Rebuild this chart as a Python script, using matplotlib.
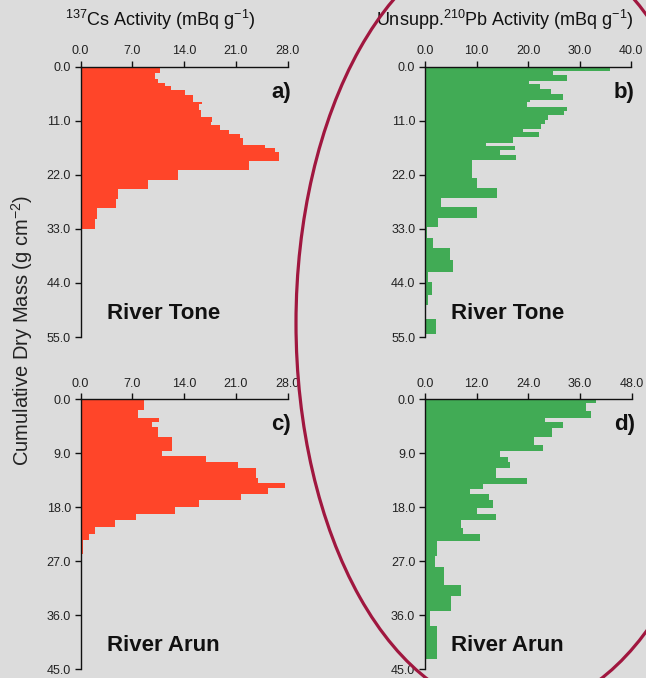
import matplotlib
matplotlib.use('Agg')
import matplotlib.pyplot as plt
import numpy as np
from matplotlib.patches import Ellipse

plt.rcParams['font.family'] = ['Liberation Sans', 'DejaVu Sans']
plt.rcParams['mathtext.fontset'] = 'custom'
plt.rcParams['mathtext.rm'] = 'Liberation Sans'
plt.rcParams['mathtext.it'] = 'Liberation Sans:italic'
plt.rcParams['mathtext.bf'] = 'Liberation Sans:bold'

# depth slice edges (cumulative dry mass, g cm-2) and activities (mBq g-1)
tone_cs_edges = [0, 1.34, 2.48, 3.36, 4.03, 4.83, 5.84, 7.18, 7.65, 8.86, 10.2,
                 11.2, 11.88, 12.89, 13.69, 14.56, 15.9, 16.58, 17.45, 19.26,
                 21.14, 23.09, 24.97, 26.98, 28.79, 31.0, 33.0]
tone_cs = [10.7, 10.05, 10.4, 11.4, 12.2, 14.1, 15.2, 16.4, 16.05, 16.3, 17.8,
           17.6, 18.85, 20.0, 21.6, 21.9, 24.9, 26.3, 26.8, 22.8, 13.2, 9.1,
           5.0, 4.8, 2.2, 1.95]

tone_pb_edges = [0, 1.0, 1.82, 3.04, 3.58, 4.52, 5.53, 6.75, 7.29, 8.23, 9.11,
                 9.92, 10.8, 11.67, 12.62, 13.29, 14.3, 15.52, 16.19, 17.0,
                 18.02, 19.03, 22.74, 24.63, 26.65, 28.54, 30.7, 32.73, 34.9,
                 36.8, 39.27, 41.7, 43.86, 46.4, 48.5, 51.35, 54.3]
tone_pb = [36.0, 24.8, 27.6, 20.2, 22.4, 24.5, 26.7, 20.4, 19.9, 27.5, 27.0,
           23.9, 23.3, 22.6, 19.1, 22.2, 17.1, 11.8, 17.5, 14.6, 17.7, 9.05,
           10.0, 14.0, 3.2, 10.1, 2.6, 0.45, 1.5, 4.85, 5.5, 0.6, 1.35, 0.65,
           0.0, 2.2]

arun_cs_edges = [0, 1.76, 3.03, 3.8, 4.68, 6.33, 8.64, 9.47, 10.46, 11.5, 13.04,
                 13.87, 14.8, 15.8, 16.8, 18.0, 19.1, 20.1, 21.3, 22.4, 23.4,
                 25.7]
arun_cs = [8.5, 7.8, 10.6, 9.6, 10.5, 12.3, 11.05, 16.95, 21.3, 23.7, 24.0,
           27.6, 25.3, 21.7, 16.0, 12.8, 7.5, 4.6, 2.0, 1.1, 0.35]

arun_pb_edges = [0, 0.66, 1.9, 3.04, 3.81, 4.8, 6.35, 7.57, 8.67, 9.6, 10.44,
                 11.44, 13.1, 14.1, 14.9, 15.86, 16.85, 18.18, 19.06, 20.17,
                 21.4, 22.5, 23.6, 26.1, 28.0, 30.9, 32.7, 35.3, 37.85, 43.2]
arun_pb = [39.6, 37.3, 38.5, 27.9, 32.0, 29.4, 25.2, 27.5, 17.3, 19.35, 19.7,
           16.5, 23.6, 13.5, 10.45, 14.9, 15.9, 12.15, 16.6, 8.3, 8.9, 12.8,
           2.86, 2.3, 4.4, 8.3, 5.96, 1.16, 2.7]

cs_ticks = [0, 7, 14, 21, 28]
tone_pb_ticks = [0, 10, 20, 30, 40]
arun_pb_ticks = [0, 12, 24, 36, 48]
tone_depth_ticks = [0, 11, 22, 33, 44, 55]
arun_depth_ticks = [0, 9, 18, 27, 36, 45]

bg = '#DCDCDC'
red = '#FF4529'
green = '#41AB55'

fig = plt.figure(figsize=(6.46, 6.78), dpi=100, facecolor=bg)

panels = [
    ([0.1249, 0.5029, 0.3204, 0.3990], tone_cs_edges, tone_cs, red,
     cs_ticks, tone_depth_ticks, 'a)', 'River Tone'),
    ([0.6579, 0.5029, 0.3189, 0.3990], tone_pb_edges, tone_pb, green,
     tone_pb_ticks, tone_depth_ticks, 'b)', 'River Tone'),
    ([0.1249, 0.0128, 0.3204, 0.3982], arun_cs_edges, arun_cs, red,
     cs_ticks, arun_depth_ticks, 'c)', 'River Arun'),
    ([0.6579, 0.0128, 0.3200, 0.3982], arun_pb_edges, arun_pb, green,
     arun_pb_ticks, arun_depth_ticks, 'd)', 'River Arun'),
]

for rect, edges, vals, col, xt, yt, tag, river in panels:
    ax = fig.add_axes(rect)
    ax.set_facecolor(bg)
    ax.stairs(vals, edges, orientation='horizontal', fill=True, color=col,
              baseline=0, linewidth=0)
    ax.set_xlim(xt[0], xt[-1])
    ax.set_ylim(yt[-1], yt[0])
    ax.set_xticks(xt)
    ax.set_yticks(yt)
    ax.set_xticklabels([f'{v:.1f}' for v in xt])
    ax.set_yticklabels([f'{v:.1f}' for v in yt])
    ax.xaxis.tick_top()
    for s in ['bottom', 'right']:
        ax.spines[s].set_visible(False)
    for s in ['top', 'left']:
        ax.spines[s].set_linewidth(1.0)
        ax.spines[s].set_color('#111111')
    ax.tick_params(axis='both', direction='out', length=4, width=1.0,
                   color='#111111', labelsize=9, labelcolor='#222222', pad=3)
    ax.text(1.015, 0.905, tag, transform=ax.transAxes, ha='right',
            va='center', fontsize=16, fontweight='bold', color='#111111')
    ax.text(0.128, 0.088, river, transform=ax.transAxes, ha='left',
            va='center', fontsize=16, fontweight='bold', color='#111111')

fig.text(0.248, 0.971, r'$^{137}$Cs Activity (mBq g$^{-1}$)', ha='center',
         va='center', fontsize=13, color='#111111')
fig.text(0.781, 0.971, r'Unsupp.$^{210}$Pb Activity (mBq g$^{-1}$)',
         ha='center', va='center', fontsize=13, color='#111111')
fig.text(0.034, 0.513, r'Cumulative Dry Mass (g cm$^{-2}$)', rotation=90,
         ha='center', va='center', fontsize=14.5, color='#222222')

# highlight around the 210Pb profiles
ring = Ellipse((514 / 646, 1 - 323 / 678), 436 / 646, 776 / 678,
               transform=fig.transFigure, fill=False, edgecolor='#A0173F',
               linewidth=2.3, zorder=10)
fig.add_artist(ring)

fig.savefig('out.png', dpi=100, facecolor=bg)
